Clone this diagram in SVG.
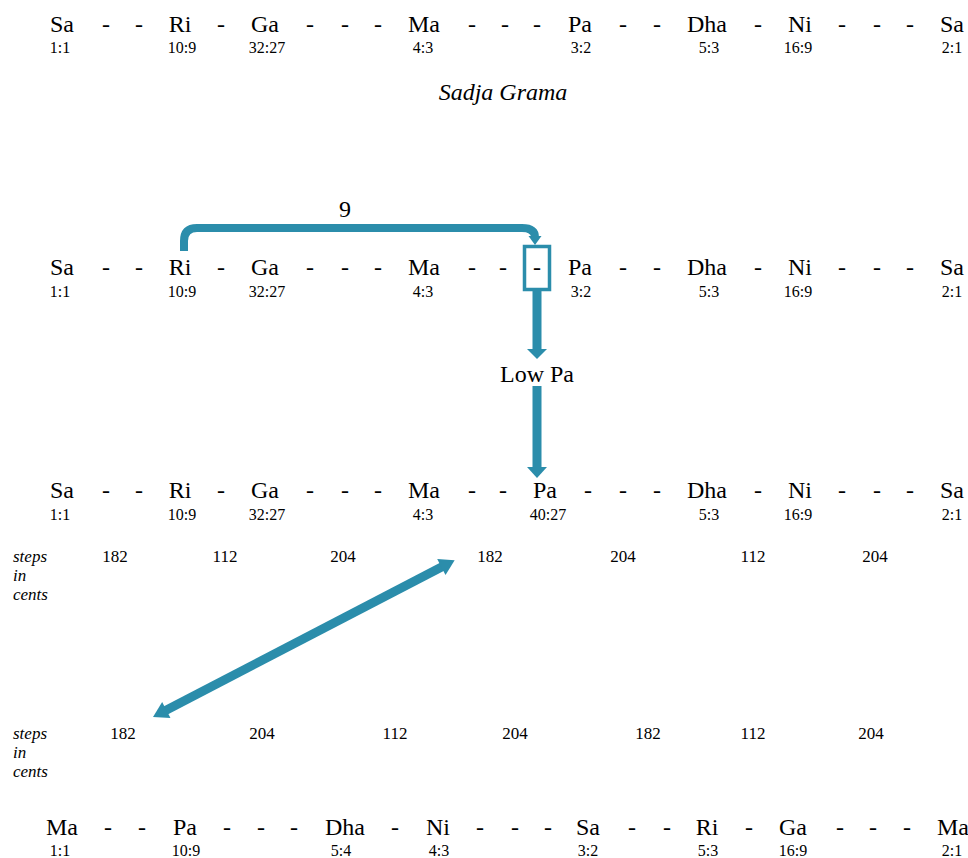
<svg xmlns="http://www.w3.org/2000/svg" width="968" height="858" viewBox="0 0 968 858">
<style>
#root text{fill:#000;font-family:'Liberation Serif','Times New Roman',serif !important}
.n{font-size:24px;text-anchor:middle}
.r{font-size:16px;text-anchor:middle}
.s{font-size:17px;text-anchor:middle}
.lab{font-size:17px;font-style:italic}
.title{font-size:24px;font-style:italic;text-anchor:middle}
.ar{fill:#2b8dab}
.arl{fill:none;stroke:#2b8dab}
</style>
<rect width="968" height="858" fill="#fff"/>
<g id="root" font-family="Liberation Serif">

<!-- Row 1: Sadja Grama -->
<g id="row1">
  <g id="r1-sa"><text class="n" x="62" y="32">Sa</text><text class="r" x="60" y="53">1:1</text></g>
  <text class="n" x="106" y="32">-</text><text class="n" x="139" y="32">-</text>
  <g id="r1-ri"><text class="n" x="180" y="32">Ri</text><text class="r" x="182" y="53">10:9</text></g>
  <text class="n" x="221" y="32">-</text>
  <g id="r1-ga"><text class="n" x="265" y="32">Ga</text><text class="r" x="267" y="53">32:27</text></g>
  <text class="n" x="310" y="32">-</text><text class="n" x="345" y="32">-</text><text class="n" x="378" y="32">-</text>
  <g id="r1-ma"><text class="n" x="424" y="32">Ma</text><text class="r" x="423" y="53">4:3</text></g>
  <text class="n" x="472" y="32">-</text><text class="n" x="505" y="32">-</text><text class="n" x="537" y="32">-</text>
  <g id="r1-pa"><text class="n" x="580" y="32">Pa</text><text class="r" x="581" y="53">3:2</text></g>
  <text class="n" x="623" y="32">-</text><text class="n" x="657" y="32">-</text>
  <g id="r1-dha"><text class="n" x="707" y="32">Dha</text><text class="r" x="709" y="53">5:3</text></g>
  <text class="n" x="758" y="32">-</text>
  <g id="r1-ni"><text class="n" x="800" y="32">Ni</text><text class="r" x="798" y="53">16:9</text></g>
  <text class="n" x="842" y="32">-</text><text class="n" x="877" y="32">-</text><text class="n" x="910" y="32">-</text>
  <g id="r1-sa2"><text class="n" x="952" y="32">Sa</text><text class="r" x="952" y="53">2:1</text></g>
</g>
<g id="title"><text class="title" x="503" y="100">Sadja Grama</text></g>

<!-- Row 2 -->
<g id="row2">
  <g id="r2-sa"><text class="n" x="62" y="275">Sa</text><text class="r" x="60" y="297">1:1</text></g>
  <text class="n" x="106" y="275">-</text><text class="n" x="139" y="275">-</text>
  <g id="r2-ri"><text class="n" x="180" y="275">Ri</text><text class="r" x="182" y="297">10:9</text></g>
  <text class="n" x="221" y="275">-</text>
  <g id="r2-ga"><text class="n" x="265" y="275">Ga</text><text class="r" x="267" y="297">32:27</text></g>
  <text class="n" x="310" y="275">-</text><text class="n" x="345" y="275">-</text><text class="n" x="378" y="275">-</text>
  <g id="r2-ma"><text class="n" x="424" y="275">Ma</text><text class="r" x="423" y="297">4:3</text></g>
  <text class="n" x="472" y="275">-</text><text class="n" x="503" y="275">-</text>
  <g id="r2-box"><rect x="524.5" y="246.5" width="25" height="43" fill="none" stroke="#2b8dab" stroke-width="3.5"/><text class="n" x="537" y="275">-</text></g>
  <g id="r2-pa"><text class="n" x="580" y="275">Pa</text><text class="r" x="581" y="297">3:2</text></g>
  <text class="n" x="623" y="275">-</text><text class="n" x="657" y="275">-</text>
  <g id="r2-dha"><text class="n" x="707" y="275">Dha</text><text class="r" x="709" y="297">5:3</text></g>
  <text class="n" x="758" y="275">-</text>
  <g id="r2-ni"><text class="n" x="800" y="275">Ni</text><text class="r" x="798" y="297">16:9</text></g>
  <text class="n" x="842" y="275">-</text><text class="n" x="877" y="275">-</text><text class="n" x="910" y="275">-</text>
  <g id="r2-sa2"><text class="n" x="952" y="275">Sa</text><text class="r" x="952" y="297">2:1</text></g>
</g>

<!-- Row 3 -->
<g id="row3">
  <g id="r3-sa"><text class="n" x="62" y="498">Sa</text><text class="r" x="60" y="520">1:1</text></g>
  <text class="n" x="106" y="498">-</text><text class="n" x="139" y="498">-</text>
  <g id="r3-ri"><text class="n" x="180" y="498">Ri</text><text class="r" x="182" y="520">10:9</text></g>
  <text class="n" x="221" y="498">-</text>
  <g id="r3-ga"><text class="n" x="265" y="498">Ga</text><text class="r" x="267" y="520">32:27</text></g>
  <text class="n" x="310" y="498">-</text><text class="n" x="345" y="498">-</text><text class="n" x="378" y="498">-</text>
  <g id="r3-ma"><text class="n" x="424" y="498">Ma</text><text class="r" x="423" y="520">4:3</text></g>
  <text class="n" x="472" y="498">-</text><text class="n" x="503" y="498">-</text>
  <g id="r3-pa"><text class="n" x="545" y="498">Pa</text><text class="r" x="548" y="520">40:27</text></g>
  <text class="n" x="588" y="498">-</text><text class="n" x="623" y="498">-</text><text class="n" x="657" y="498">-</text>
  <g id="r3-dha"><text class="n" x="707" y="498">Dha</text><text class="r" x="709" y="520">5:3</text></g>
  <text class="n" x="758" y="498">-</text>
  <g id="r3-ni"><text class="n" x="800" y="498">Ni</text><text class="r" x="798" y="520">16:9</text></g>
  <text class="n" x="842" y="498">-</text><text class="n" x="877" y="498">-</text><text class="n" x="910" y="498">-</text>
  <g id="r3-sa2"><text class="n" x="952" y="498">Sa</text><text class="r" x="952" y="520">2:1</text></g>
</g>

<!-- Steps 1 -->
<g id="steps1">
  <text class="lab" x="13" y="562">steps</text>
  <text class="lab" x="13" y="581">in</text>
  <text class="lab" x="13" y="600">cents</text>
  <text class="s" x="115" y="562">182</text>
  <text class="s" x="225" y="562">112</text>
  <text class="s" x="343" y="562">204</text>
  <text class="s" x="490" y="562">182</text>
  <text class="s" x="623" y="562">204</text>
  <text class="s" x="753" y="562">112</text>
  <text class="s" x="875" y="562">204</text>
</g>

<!-- Steps 2 -->
<g id="steps2">
  <text class="lab" x="13" y="739">steps</text>
  <text class="lab" x="13" y="758">in</text>
  <text class="lab" x="13" y="777">cents</text>
  <text class="s" x="123" y="739">182</text>
  <text class="s" x="262" y="739">204</text>
  <text class="s" x="395" y="739">112</text>
  <text class="s" x="515" y="739">204</text>
  <text class="s" x="648" y="739">182</text>
  <text class="s" x="753" y="739">112</text>
  <text class="s" x="871" y="739">204</text>
</g>

<!-- Row 4 -->
<g id="row4">
  <g id="r4-ma"><text class="n" x="62" y="835">Ma</text><text class="r" x="60" y="856">1:1</text></g>
  <text class="n" x="108" y="835">-</text><text class="n" x="142" y="835">-</text>
  <g id="r4-pa"><text class="n" x="185" y="835">Pa</text><text class="r" x="186" y="856">10:9</text></g>
  <text class="n" x="227" y="835">-</text><text class="n" x="261" y="835">-</text><text class="n" x="294" y="835">-</text>
  <g id="r4-dha"><text class="n" x="345" y="835">Dha</text><text class="r" x="341" y="856">5:4</text></g>
  <text class="n" x="395" y="835">-</text>
  <g id="r4-ni"><text class="n" x="438" y="835">Ni</text><text class="r" x="439" y="856">4:3</text></g>
  <text class="n" x="480" y="835">-</text><text class="n" x="515" y="835">-</text><text class="n" x="548" y="835">-</text>
  <g id="r4-sa"><text class="n" x="588" y="835">Sa</text><text class="r" x="588" y="856">3:2</text></g>
  <text class="n" x="632" y="835">-</text><text class="n" x="667" y="835">-</text>
  <g id="r4-ri"><text class="n" x="707" y="835">Ri</text><text class="r" x="708" y="856">5:3</text></g>
  <text class="n" x="749" y="835">-</text>
  <g id="r4-ga"><text class="n" x="793" y="835">Ga</text><text class="r" x="793" y="856">16:9</text></g>
  <text class="n" x="840" y="835">-</text><text class="n" x="873" y="835">-</text><text class="n" x="907" y="835">-</text>
  <g id="r4-ma2"><text class="n" x="953" y="835">Ma</text><text class="r" x="952" y="856">2:1</text></g>
</g>

<!-- Connectors -->
<g id="connectors">
  <path class="arl" stroke-width="8" d="M184,251 V241 Q184,228 197,228 H522 Q535,228 535,237.5"/>
  <polygon class="ar" points="528.5,236 541.5,236 535,245"/>
  <text x="345" y="217" font-size="24" text-anchor="middle">9</text>

  <rect class="ar" x="532.5" y="291" width="9" height="59"/>
  <polygon class="ar" points="527,349 547,349 537,359"/>
  <text x="537" y="382" font-size="24" text-anchor="middle">Low Pa</text>
  <rect class="ar" x="532.5" y="386" width="9" height="82"/>
  <polygon class="ar" points="527,467 547,467 537,478"/>

  <g transform="translate(153,717) rotate(-27.47)">
    <rect class="ar" x="12" y="-4.5" width="316" height="9"/>
    <polygon class="ar" points="0,0 15,-9 15,9"/>
    <polygon class="ar" points="340,0 325,-9 325,9"/>
  </g>
</g>
</g>
</svg>
